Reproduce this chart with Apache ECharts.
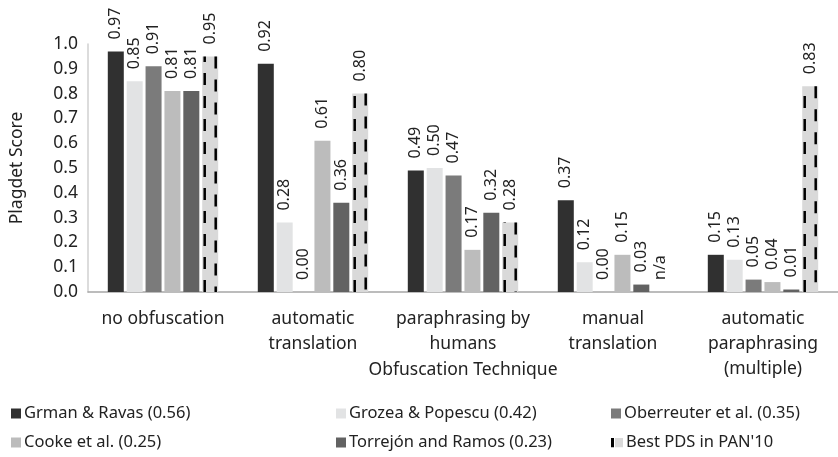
<!DOCTYPE html>
<html><head><meta charset="utf-8">
<script src="https://cdn.jsdelivr.net/npm/echarts@6/dist/echarts.min.js"></script>
<style>html,body{margin:0;padding:0;background:#fff}#c{width:838px;height:457px}</style>
</head><body><div id="c"></div>
<script>
const categories = ['no obfuscation', 'automatic\ntranslation', 'paraphrasing by\nhumans', 'manual\ntranslation', 'automatic\nparaphrasing\n(multiple)'];
const seriesNames = ['Grman & Ravas (0.56)', 'Grozea & Popescu (0.42)', 'Oberreuter et al. (0.35)', 'Cooke et al. (0.25)', 'Torrejón and Ramos (0.23)', "Best PDS in PAN'10"];
const grman = [0.97, 0.92, 0.49, 0.37, 0.15];
const grozea = [0.85, 0.28, 0.50, 0.12, 0.13];
const oberreuter = [0.91, 0.00, 0.47, 0.00, 0.05];
const cooke = [0.81, 0.61, 0.17, 0.15, 0.04];
const torrejon = [0.81, 0.36, 0.32, 0.03, 0.01];
const bestPds = [0.95, 0.80, 0.28, null, 0.83];
const yTicks = [0.0, 0.1, 0.2, 0.3, 0.4, 0.5, 0.6, 0.7, 0.8, 0.9, 1.0];

const colors = ['#303030', '#e2e3e4', '#7b7b7b', '#bcbcbc', '#626262', '#d9d9d9'];
const FONT = '"Noto Sans", "Open Sans", sans-serif';
const BW = 16, GAP = 0.18;
const allData = [grman, grozea, oberreuter, cooke, torrejon, bestPds];

const chart = echarts.init(document.getElementById('c'), null, {renderer: 'canvas'});

const labelCfg = {
  show: true, position: 'top', rotate: 90, align: 'left', verticalAlign: 'middle',
  distance: 12, fontSize: 16, color: '#222', fontFamily: FONT,
  formatter: p => (p.data && p.data.na) ? 'n/a' : Number(p.value).toFixed(2)
};

const barSeries = allData.map((arr, si) => ({
  name: seriesNames[si], type: 'bar', barWidth: BW, barGap: (GAP * 100) + '%',
  itemStyle: {color: colors[si]},
  label: labelCfg,
  data: arr.map(v => v === null ? {value: 0, na: true} : v),
  z: 2
}));

const total = 6 * BW + 5 * GAP * BW;
const offset6 = -total / 2 + 5 * BW * (1 + GAP) + BW / 2;

const dashSeries = {
  type: 'custom', name: 'dash', z: 5, silent: true,
  data: bestPds.map((v, i) => [i, v]).filter(d => d[1] !== null && d[1] > 0),
  renderItem: function (params, api) {
    const top = api.coord([api.value(0), api.value(1)]);
    const base = api.coord([api.value(0), 0]);
    const cx = top[0] + offset6;
    const xl = cx - BW / 2 + 2.5, xr = cx + BW / 2 - 2.5;
    return {type: 'group', children: [
      {type: 'line', shape: {x1: xl, y1: base[1], x2: xl, y2: top[1]}, style: {stroke: '#000', lineWidth: 2.5, lineDash: [12, 11]}},
      {type: 'line', shape: {x1: xr, y1: top[1], x2: xr, y2: base[1]}, style: {stroke: '#000', lineWidth: 2.5, lineDash: [12, 11]}}
    ]};
  }
};

const svg = '<svg xmlns="http://www.w3.org/2000/svg" width="12" height="10"><rect x="0" y="0" width="3" height="10" fill="#000"/><rect x="4" y="0" width="8" height="10" fill="#d9d9d9"/></svg>';
const pdsIcon = 'image://data:image/svg+xml;utf8,' + encodeURIComponent(svg);

const legendPos = [[6, 400], [331, 400], [606, 400], [6, 429], [331, 429], [606, 429]];
const legendOrder = [0, 1, 2, 3, 4, 5];
const legends = legendOrder.map((si, k) => ({
  left: legendPos[k][0], top: legendPos[k][1], orient: 'horizontal',
  itemWidth: si === 5 ? 12 : 10, itemHeight: 10, icon: 'rect', selectedMode: false,
  textStyle: {fontSize: 16.5, color: '#222', fontFamily: FONT, padding: [0, 0, 0, -2]},
  data: [si === 5 ? {name: seriesNames[si], icon: pdsIcon} : seriesNames[si]]
}));

chart.setOption({
  animation: false,
  grid: {left: 88, top: 44, width: 754, height: 248, containLabel: false},
  legend: legends,
  xAxis: {
    type: 'category', data: categories,
    name: 'Obfuscation Technique', nameLocation: 'middle', nameGap: 69, nameMoveOverlap: false,
    nameTextStyle: {fontSize: 17.5, color: '#222', fontFamily: FONT},
    axisLine: {lineStyle: {color: '#a6a6a6', width: 1.5}},
    axisTick: {show: false},
    axisLabel: {fontSize: 17.5, color: '#222', fontFamily: FONT, margin: 15, lineHeight: 25, interval: 0}
  },
  yAxis: {
    type: 'value', min: 0, max: 1, interval: 0.1,
    name: 'Plagdet Score', nameLocation: 'middle', nameGap: 62, nameRotate: 90, nameMoveOverlap: false,
    nameTextStyle: {fontSize: 17.5, color: '#222', fontFamily: FONT},
    axisLine: {show: true, lineStyle: {color: '#d0d0d0', width: 1.5}},
    axisTick: {show: false},
    splitLine: {show: false},
    axisLabel: {fontSize: 17.5, color: '#222', fontFamily: FONT, margin: 10,
      formatter: v => { const t = yTicks.find(x => Math.abs(x - v) < 1e-6); return (t !== undefined ? t : v).toFixed(1); }}
  },
  series: barSeries.concat([dashSeries])
});
</script></body></html>
